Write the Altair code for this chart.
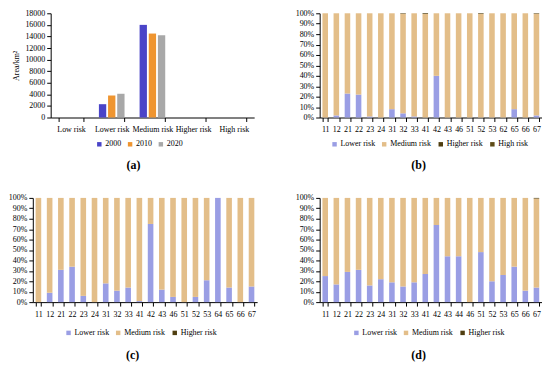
import altair as alt
import pandas as pd

FONT = "Liberation Serif"

# ---- panel (a) data ----
levels = ["Low risk", "Lower risk", "Medium risk", "Higher risk", "High risk"]
years = ["2000", "2010", "2020"]
area_2000 = [0, 2300, 16000, 0, 0]
area_2010 = [0, 3800, 14500, 0, 0]
area_2020 = [0, 4100, 14200, 0, 0]
year_colors = ["#4a44c8", "#ef9530", "#a8a8a8"]

# ---- panel (b) data (percent) ----
cats_b = ["11", "12", "21", "22", "23", "24", "31", "32", "33", "41", "42", "43",
          "46", "51", "52", "53", "62", "65", "66", "67"]
lower_b = [0, 2, 23, 22, 1, 0, 8, 4, 1, 0, 40, 0, 0, 0, 0, 0, 0, 8, 0, 2]
higher_b = [0, 0, 0, 0, 0, 0, 0, 0.5, 0, 0.7, 0, 0, 0, 0, 0.6, 0, 0, 0, 0, 0.5]
high_b = [0] * 20

# ---- panel (c) data (percent) ----
cats_c = ["11", "12", "21", "22", "23", "24", "31", "32", "33", "41", "42", "43",
          "46", "51", "52", "53", "64", "65", "66", "67"]
lower_c = [0, 9, 31, 34, 6, 0, 18, 11, 14, 1, 75, 12, 5, 0, 5, 21, 100, 14, 0, 15]
higher_c = [0] * 20

# ---- panel (d) data (percent) ----
cats_d = ["11", "12", "21", "22", "23", "24", "31", "32", "33", "41", "42", "43",
          "44", "46", "51", "52", "53", "65", "66", "67"]
lower_d = [25, 17, 29, 31, 16, 22, 19, 15, 19, 27, 74, 44, 44, 0, 48, 20, 26, 34, 11, 14]
higher_d = [0, 0, 0, 0, 0, 0, 0, 0, 0, 0, 0, 0, 0, 0, 0, 0, 0, 0, 0, 0.6]

risk_colors = {
    "Lower risk": "#9a9ee4",
    "Medium risk": "#e3be89",
    "Higher risk": "#4f3e10",
    "High risk": "#5e4b16",
}

FS = 8
A_SHIFT = 18   # panel (a) plot sits further right than panel (c)


def title_params(text, offset):
    return alt.TitleParams(text, orient="bottom", anchor="middle", frame="bounds",
                           font=FONT, fontSize=12, fontWeight="bold", offset=offset,
                           color="black")


def legend(lx, ly):
    return alt.Legend(orient="none", legendX=lx, legendY=ly, direction="horizontal",
                      title=None, symbolType="square", symbolSize=20,
                      symbolStrokeWidth=0, labelFont=FONT, labelFontSize=FS,
                      labelOffset=2, columnPadding=5, labelColor="black")


def x_axis():
    return alt.Axis(title=None, labelAngle=0, tickBand="extent", labelPadding=4,
                    labelFont=FONT, labelFontSize=FS, labelColor="black",
                    domainColor="black", tickColor="black", tickSize=4)


def y_axis(**kw):
    return alt.Axis(grid=False, labelFont=FONT, labelFontSize=FS, labelColor="black",
                    domainColor="black", tickColor="black", tickSize=4, **kw)


# panel (a)
rows_a = []
for i, lv in enumerate(levels):
    for y, vals in zip(years, [area_2000, area_2010, area_2020]):
        rows_a.append({"level": lv, "year": y, "area": vals[i]})
df_a = pd.DataFrame(rows_a)

panel_a = alt.Chart(df_a).mark_bar().encode(
    x=alt.X("level:N", sort=levels,
            scale=alt.Scale(range=[A_SHIFT, A_SHIFT + 205],
                            paddingInner=0.37, paddingOuter=0.185),
            axis=x_axis()),
    xOffset=alt.XOffset("year:N", sort=years, scale=alt.Scale(paddingInner=0.2)),
    y=alt.Y("area:Q", scale=alt.Scale(domain=[0, 18000], nice=False),
            axis=y_axis(title="Area/km²", values=list(range(0, 18001, 2000)),
                        format="d", titlePadding=4, titleColor="black", offset=-A_SHIFT,
                        titleFont=FONT, titleFontSize=FS, titleFontWeight="normal")),
    color=alt.Color("year:N", sort=years,
                    scale=alt.Scale(domain=years, range=year_colors),
                    legend=legend(45 + A_SHIFT, 128)),
).properties(width=205 + A_SHIFT, height=105, title=title_params("(a)", 12))


def stacked(cats, lower, higher, high, risks, lx, ly, w, title, toff):
    rows = []
    for i, c in enumerate(cats):
        vals = {"Lower risk": lower[i], "Higher risk": higher[i],
                "High risk": high[i] if high is not None else 0}
        vals["Medium risk"] = 100 - vals["Lower risk"] - vals["Higher risk"] - vals["High risk"]
        for k, r in enumerate(risks):
            rows.append({"cat": c, "risk": r, "share": vals[r] / 100.0, "ord": k})
    df = pd.DataFrame(rows)
    return alt.Chart(df).mark_bar().encode(
        x=alt.X("cat:N", sort=cats, scale=alt.Scale(paddingInner=0.5, paddingOuter=0.25),
                axis=x_axis()),
        y=alt.Y("share:Q", stack="zero", scale=alt.Scale(domain=[0, 1], nice=False),
                axis=y_axis(title=None, values=[i / 10 for i in range(11)],
                            format=".0%")),
        color=alt.Color("risk:N", sort=risks,
                        scale=alt.Scale(domain=risks, range=[risk_colors[r] for r in risks]),
                        legend=legend(lx, ly)),
        order=alt.Order("ord:Q"),
    ).properties(width=w, height=105, title=title_params(title, toff))


risks4 = ["Lower risk", "Medium risk", "Higher risk", "High risk"]
risks3 = ["Lower risk", "Medium risk", "Higher risk"]

panel_b = stacked(cats_b, lower_b, higher_b, high_b, risks4, 11, 128, 224, "(b)", 12)
panel_c = stacked(cats_c, lower_c, higher_c, None, risks3, 32, 132, 226, "(c)", 13)
panel_d = stacked(cats_d, lower_d, higher_d, None, risks3, 33, 132, 224, "(d)", 13)

chart = alt.concat(panel_a, panel_b, panel_c, panel_d, columns=2,
                   spacing={"column": 38, "row": 23}).properties(
    padding={"left": 0, "top": 0, "right": 0, "bottom": 0},
    background="white",
).resolve_scale(color="independent").resolve_legend(
    color="independent"
).configure_view(stroke=None)

chart.save("out.html", embed_options={"renderer": "svg", "actions": False})
